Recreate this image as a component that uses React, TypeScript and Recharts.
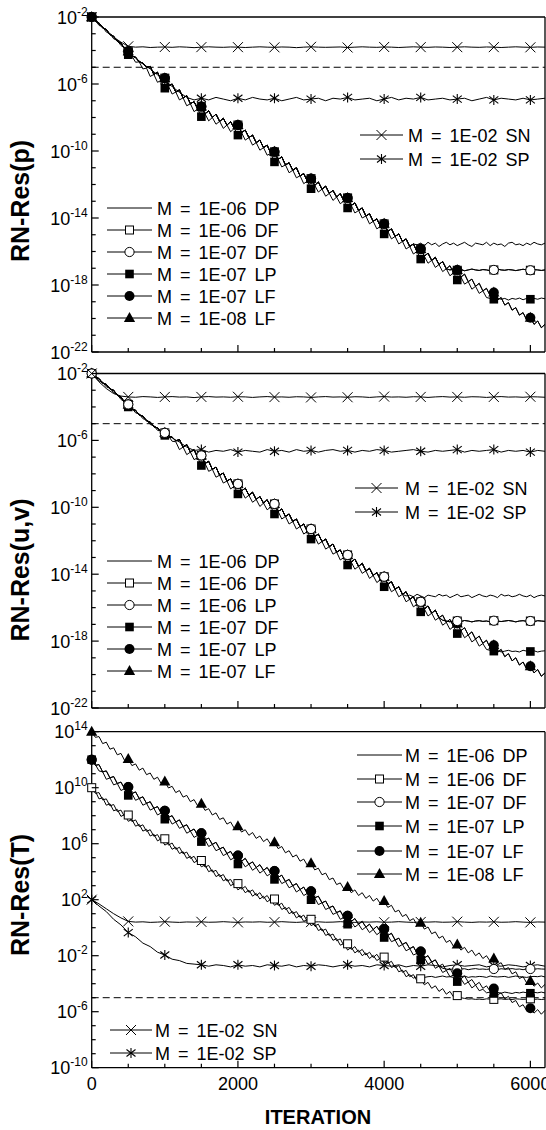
import React from "react";
import { LineChart, Line, XAxis, YAxis, ReferenceLine, Legend } from "recharts";

const FONT = '"Liberation Sans", Arial, Helvetica, sans-serif';
const X_MAX = 6200;
const xTicks = [0, 500, 1000, 1500, 2000, 2500, 3000, 3500, 4000, 4500, 5000, 5500, 6000];
const xLabelTicks = [0, 2000, 4000, 6000];

// All values are log10(residual). Wiggly curves: one value every 50 iterations.
// Flat SN / SP curves: one value every 100 iterations.

// ---- RN-Res(p) ----
const pSN = [
  -2.0, -2.4, -2.8, -3.2, -3.5, -3.75, -3.8, -3.78, -3.82, -3.8,
  -3.79, -3.81, -3.78, -3.8, -3.83, -3.8, -3.78, -3.8, -3.81, -3.79,
  -3.8, -3.82, -3.8, -3.78, -3.8, -3.81, -3.79, -3.8, -3.83, -3.8,
  -3.78, -3.8, -3.81, -3.8, -3.79, -3.82, -3.8, -3.78, -3.8, -3.81,
  -3.79, -3.8, -3.82, -3.8, -3.78, -3.8, -3.81, -3.79, -3.8, -3.82,
  -3.8, -3.78, -3.8, -3.81, -3.79, -3.8, -3.82, -3.8, -3.78, -3.8,
  -3.81, -3.79, -3.8,
];
const pSP = [
  -2.0, -2.4, -2.8, -3.2, -3.6, -4.1, -4.45, -4.8, -5.1, -5.45,
  -5.8, -6.15, -6.5, -6.8, -6.95, -6.85, -6.95, -6.8, -6.9, -7.0,
  -6.85, -6.95, -6.8, -6.9, -6.95, -6.85, -7.0, -6.9, -6.8, -6.95,
  -6.9, -6.85, -7.0, -6.85, -6.9, -6.8, -6.95, -6.9, -6.85, -7.0,
  -6.9, -6.8, -6.95, -6.85, -6.9, -6.8, -6.95, -6.9, -6.85, -6.95,
  -6.9, -6.85, -7.0, -6.9, -6.8, -6.95, -6.85, -6.9, -6.95, -6.85,
  -6.95, -6.9, -6.85,
];
// 1E-07 LF / 1E-08 LF curve (the DP and DF curves ride on it until they level off)
const pLF = [
  -2.0, -2.25, -2.35, -2.65, -2.75, -3.05, -3.15, -3.45, -3.55, -3.9,
  -4.05, -4.33, -4.4, -4.68, -4.75, -5.0, -4.95, -5.43, -5.3, -5.78,
  -5.65, -6.13, -6.0, -6.48, -6.35, -6.83, -6.7, -7.18, -7.05, -7.5,
  -7.35, -7.78, -7.6, -8.0, -7.8, -8.23, -8.05, -8.45, -8.25, -8.65,
  -8.45, -8.9, -8.75, -9.2, -9.05, -9.5, -9.35, -9.8, -9.65, -10.15,
  -10.05, -10.5, -10.35, -10.83, -10.7, -11.15, -11.0, -11.48, -11.35, -11.8,
  -11.65, -12.05, -11.85, -12.28, -12.1, -12.53, -12.35, -12.75, -12.55, -12.98,
  -12.8, -13.25, -13.1, -13.55, -13.4, -13.88, -13.75, -14.2, -14.05, -14.5,
  -14.35, -14.8, -14.65, -15.1, -14.95, -15.4, -15.25, -15.7, -15.55, -16.0,
  -15.85, -16.28, -16.1, -16.53, -16.35, -16.78, -16.6, -17.03, -16.85, -17.28,
  -17.1, -17.53, -17.35, -17.8, -17.65, -18.08, -17.9, -18.35, -18.2, -18.63,
  -18.45, -18.9, -18.75, -19.2, -19.05, -19.5, -19.35, -19.8, -19.65, -20.1,
  -19.95, -20.35, -20.15, -20.55, -20.35,
];
const pLP7 = [
  -2.0, -2.2, -2.5, -2.6, -2.9, -3.0, -3.3, -3.4, -3.7, -3.85,
  -4.25, -4.33, -4.7, -4.68, -5.1, -5.05, -5.55, -5.43, -5.9, -5.78,
  -6.25, -6.13, -6.6, -6.48, -6.95, -6.83, -7.3, -7.18, -7.65, -7.5,
  -7.95, -7.78, -8.2, -8.0, -8.4, -8.23, -8.65, -8.45, -8.85, -8.65,
  -9.05, -8.9, -9.35, -9.2, -9.65, -9.5, -9.95, -9.8, -10.25, -10.15,
  -10.65, -10.5, -10.95, -10.83, -11.3, -11.15, -11.6, -11.48, -11.95, -11.8,
  -12.25, -12.05, -12.45, -12.28, -12.7, -12.53, -12.95, -12.75, -13.15, -12.98,
  -13.4, -13.25, -13.7, -13.55, -14.0, -13.88, -14.35, -14.2, -14.65, -14.5,
  -14.95, -14.8, -15.25, -15.1, -15.55, -15.4, -15.85, -15.7, -16.15, -16.0,
  -16.45, -16.28, -16.7, -16.53, -16.95, -16.78, -17.2, -17.03, -17.45, -17.28,
  -17.7, -17.53, -17.95, -17.8, -18.25, -18.08, -18.5, -18.35, -18.75, -18.8,
  -18.85, -18.78, -18.85, -18.8, -18.9, -18.8, -18.85, -18.78, -18.88, -18.8,
  -18.85, -18.8, -18.85, -18.78, -18.82,
];
// plateaus: DP from 4450 on, DF from 4900 on
const pDPtail = [
  -15.6, -15.5, -15.65, -15.45, -15.6, -15.5, -15.7, -15.55, -15.45, -15.6,
  -15.5, -15.65, -15.55, -15.45, -15.6, -15.7, -15.5, -15.55, -15.6, -15.45,
  -15.65, -15.5, -15.6, -15.55, -15.7, -15.5, -15.45, -15.6, -15.55, -15.65,
  -15.5, -15.6, -15.45, -15.55, -15.6, -15.5,
];
const pDFtail = [
  -17.1, -17.05, -17.12, -17.08, -17.15, -17.1, -17.05, -17.1, -17.13, -17.08,
  -17.1, -17.15, -17.1, -17.05, -17.1, -17.12, -17.08, -17.1, -17.14, -17.1,
  -17.06, -17.1, -17.12, -17.08, -17.1, -17.13, -17.1,
];
const pDP = [...pLF.slice(0, 89), ...pDPtail];
const pDF = [...pLF.slice(0, 98), ...pDFtail];

// ---- RN-Res(u,v) ----
const uSN = [
  -2.0, -2.5, -2.9, -3.2, -3.35, -3.4, -3.42, -3.38, -3.4, -3.43,
  -3.4, -3.38, -3.41, -3.4, -3.44, -3.4, -3.38, -3.41, -3.4, -3.42,
  -3.39, -3.4, -3.43, -3.4, -3.38, -3.41, -3.4, -3.42, -3.39, -3.4,
  -3.43, -3.4, -3.38, -3.41, -3.4, -3.42, -3.39, -3.4, -3.43, -3.4,
  -3.38, -3.41, -3.4, -3.42, -3.39, -3.4, -3.43, -3.4, -3.38, -3.41,
  -3.4, -3.42, -3.39, -3.4, -3.43, -3.4, -3.38, -3.41, -3.4, -3.42,
  -3.39, -3.4, -3.42,
];
const uSP = [
  -2.0, -2.35, -2.7, -3.05, -3.45, -3.9, -4.25, -4.6, -4.95, -5.3,
  -5.6, -5.85, -6.1, -6.4, -6.6, -6.55, -6.7, -6.6, -6.65, -6.55,
  -6.7, -6.6, -6.65, -6.7, -6.55, -6.65, -6.6, -6.7, -6.55, -6.65,
  -6.6, -6.7, -6.6, -6.55, -6.65, -6.6, -6.7, -6.6, -6.65, -6.55,
  -6.6, -6.7, -6.65, -6.6, -6.55, -6.65, -6.7, -6.6, -6.65, -6.6,
  -6.55, -6.7, -6.6, -6.65, -6.6, -6.55, -6.7, -6.6, -6.65, -6.6,
  -6.7, -6.6, -6.65,
];
// 1E-07 LP / 1E-07 LF curve
const uLP = [
  -2.0, -2.23, -2.3, -2.58, -2.65, -2.93, -3.0, -3.3, -3.4, -3.73,
  -3.85, -4.13, -4.2, -4.48, -4.55, -4.83, -4.9, -5.18, -5.25, -5.5,
  -5.55, -5.78, -5.8, -6.03, -5.95, -6.4, -6.25, -6.7, -6.55, -7.03,
  -6.9, -7.38, -7.25, -7.73, -7.6, -8.08, -7.95, -8.43, -8.3, -8.75,
  -8.6, -9.03, -8.85, -9.28, -9.1, -9.53, -9.35, -9.75, -9.55, -9.98,
  -9.8, -10.25, -10.1, -10.55, -10.4, -10.85, -10.7, -11.15, -11.0, -11.45,
  -11.3, -11.75, -11.6, -12.05, -11.9, -12.35, -12.2, -12.68, -12.55, -13.0,
  -12.85, -13.28, -13.1, -13.53, -13.35, -13.8, -13.65, -14.08, -13.9, -14.33,
  -14.15, -14.6, -14.45, -14.9, -14.75, -15.2, -15.05, -15.5, -15.35, -15.8,
  -15.65, -16.08, -15.9, -16.33, -16.15, -16.6, -16.45, -16.88, -16.7, -17.13,
  -16.95, -17.38, -17.2, -17.63, -17.45, -17.88, -17.7, -18.13, -17.95, -18.4,
  -18.25, -18.68, -18.5, -18.93, -18.75, -19.18, -19.0, -19.43, -19.25, -19.68,
  -19.5, -19.9, -19.7, -20.1, -19.9,
];
const uDF7 = [
  -2.0, -2.18, -2.45, -2.53, -2.8, -2.88, -3.15, -3.25, -3.55, -3.68,
  -4.0, -4.08, -4.35, -4.43, -4.7, -4.78, -5.05, -5.13, -5.4, -5.45,
  -5.7, -5.73, -6.05, -6.08, -6.55, -6.4, -6.85, -6.7, -7.15, -7.03,
  -7.5, -7.38, -7.85, -7.73, -8.2, -8.08, -8.55, -8.43, -8.9, -8.75,
  -9.2, -9.03, -9.45, -9.28, -9.7, -9.53, -9.95, -9.75, -10.15, -9.98,
  -10.4, -10.25, -10.7, -10.55, -11.0, -10.85, -11.3, -11.15, -11.6, -11.45,
  -11.9, -11.75, -12.2, -12.05, -12.5, -12.35, -12.8, -12.68, -13.15, -13.0,
  -13.45, -13.28, -13.7, -13.53, -13.95, -13.8, -14.25, -14.08, -14.5, -14.33,
  -14.75, -14.6, -15.05, -14.9, -15.35, -15.2, -15.65, -15.5, -15.95, -15.8,
  -16.25, -16.08, -16.5, -16.33, -16.75, -16.6, -17.05, -16.88, -17.3, -17.13,
  -17.55, -17.38, -17.8, -17.63, -18.05, -17.88, -18.3, -18.15, -18.5, -18.55,
  -18.6, -18.55, -18.65, -18.6, -18.55, -18.62, -18.6, -18.65, -18.55, -18.6,
  -18.62, -18.58, -18.65, -18.6, -18.58,
];
// plateaus: DP from 4300 on, 1E-06 DF / LP from 4800 on
const uDPtail = [
  -15.3, -15.25, -15.35, -15.2, -15.3, -15.4, -15.25, -15.3, -15.35, -15.2,
  -15.3, -15.25, -15.4, -15.3, -15.2, -15.35, -15.3, -15.25, -15.4, -15.3,
  -15.2, -15.3, -15.35, -15.25, -15.3, -15.4, -15.2, -15.3, -15.25, -15.35,
  -15.3, -15.2, -15.3, -15.35, -15.25, -15.4, -15.3, -15.25, -15.3,
];
const uDFtail = [
  -16.75, -16.8, -16.85, -16.78, -16.8, -16.83, -16.77, -16.8, -16.85, -16.8,
  -16.78, -16.82, -16.8, -16.85, -16.78, -16.8, -16.83, -16.8, -16.77, -16.8,
  -16.85, -16.8, -16.78, -16.82, -16.8, -16.84, -16.78, -16.8, -16.82,
];
const uDP = [...uLP.slice(0, 86), ...uDPtail];
const uDF6 = [...uLP.slice(0, 96), ...uDFtail];

// ---- RN-Res(T) ----
const tSN = [
  2.0, 1.7, 1.35, 1.0, 0.7, 0.45, 0.4, 0.42, 0.38, 0.4,
  0.43, 0.4, 0.38, 0.41, 0.4, 0.42, 0.39, 0.4, 0.43, 0.4,
  0.38, 0.41, 0.4, 0.42, 0.39, 0.4, 0.43, 0.4, 0.38, 0.41,
  0.4, 0.42, 0.39, 0.4, 0.43, 0.4, 0.38, 0.41, 0.4, 0.42,
  0.39, 0.4, 0.43, 0.4, 0.38, 0.41, 0.4, 0.42, 0.39, 0.4,
  0.43, 0.4, 0.38, 0.41, 0.4, 0.42, 0.39, 0.4, 0.43, 0.4,
  0.38, 0.41, 0.4,
];
const tSP = [
  2.0, 1.55, 1.15, 0.6, 0.2, -0.35, -0.65, -1.1, -1.35, -1.75,
  -1.95, -2.25, -2.35, -2.55, -2.6, -2.65, -2.75, -2.65, -2.7, -2.8,
  -2.65, -2.75, -2.7, -2.8, -2.65, -2.7, -2.75, -2.65, -2.8, -2.7,
  -2.75, -2.65, -2.7, -2.8, -2.7, -2.65, -2.75, -2.7, -2.8, -2.65,
  -2.7, -2.75, -2.65, -2.8, -2.7, -2.75, -2.65, -2.7, -2.8, -2.7,
  -2.65, -2.75, -2.7, -2.65, -2.8, -2.7, -2.75, -2.65, -2.7, -2.8,
  -2.7, -2.65, -2.75,
];
const tDP = [
  10.0, 9.75, 9.2, 9.28, 8.75, 8.85, 8.35, 8.45, 7.95, 8.08,
  7.6, 7.73, 7.25, 7.38, 6.9, 7.03, 6.55, 6.68, 6.2, 6.35,
  5.9, 6.05, 5.6, 5.75, 5.3, 5.43, 4.95, 5.1, 4.65, 4.8,
  4.35, 4.48, 4.0, 4.13, 3.65, 3.8, 3.35, 3.48, 3.0, 3.15,
  2.7, 2.9, 2.5, 2.68, 2.25, 2.45, 2.05, 2.25, 1.85, 2.03,
  1.6, 1.75, 1.3, 1.45, 1.0, 1.15, 0.7, 0.88, 0.45, 0.6,
  0.15, 0.28, -0.2, -0.08, -0.55, -0.43, -0.9, -0.78, -1.25, -1.13,
  -1.6, -1.4, -1.8, -1.6, -2.0, -1.8, -2.2, -1.98, -2.35, -2.15,
  -2.55, -2.4, -2.85, -2.7, -3.15, -3.03, -3.5, -3.35, -3.6, -3.5,
  -3.45, -3.55, -3.5, -3.48, -3.55, -3.5, -3.45, -3.52, -3.5, -3.55,
  -3.48, -3.5, -3.45, -3.55, -3.5, -3.52, -3.48, -3.5, -3.55, -3.45,
  -3.5, -3.52, -3.5, -3.48, -3.55, -3.5, -3.45, -3.5, -3.52, -3.55,
  -3.5, -3.48, -3.5, -3.45, -3.52,
];
const tDF6 = [
  10.0, 9.6, 9.65, 9.13, 9.2, 8.7, 8.8, 8.3, 8.4, 7.93,
  8.05, 7.58, 7.7, 7.23, 7.35, 6.88, 7.0, 6.53, 6.65, 6.2,
  6.35, 5.9, 6.05, 5.6, 5.75, 5.28, 5.4, 4.95, 5.1, 4.65,
  4.8, 4.33, 4.45, 3.98, 4.1, 3.65, 3.8, 3.33, 3.45, 3.0,
  3.15, 2.75, 2.95, 2.53, 2.7, 2.3, 2.5, 2.1, 2.3, 1.88,
  2.05, 1.6, 1.75, 1.3, 1.45, 1.0, 1.15, 0.73, 0.9, 0.45,
  0.6, 0.13, 0.25, -0.23, -0.1, -0.58, -0.45, -0.93, -0.8, -1.28,
  -1.15, -1.55, -1.35, -1.75, -1.55, -1.95, -1.75, -2.13, -1.9, -2.3,
  -2.1, -2.55, -2.4, -2.85, -2.7, -3.18, -3.05, -3.5, -3.35, -3.8,
  -3.65, -4.08, -3.9, -4.33, -4.15, -4.55, -4.35, -4.75, -4.55, -4.95,
  -4.85, -5.0, -5.05, -5.1, -5.08, -5.12, -5.1, -5.13, -5.08, -5.1,
  -5.12, -5.1, -5.08, -5.12, -5.1, -5.13, -5.08, -5.1, -5.12, -5.1,
  -5.08, -5.12, -5.1, -5.13, -5.1,
];
const tLF7 = [
  12.0, 11.6, 11.65, 11.13, 11.2, 10.7, 10.8, 10.3, 10.4, 9.93,
  10.05, 9.58, 9.7, 9.23, 9.35, 8.88, 9.0, 8.53, 8.65, 8.2,
  8.35, 7.88, 8.0, 7.55, 7.7, 7.23, 7.35, 6.9, 7.05, 6.6,
  6.75, 6.28, 6.4, 5.95, 6.1, 5.63, 5.75, 5.3, 5.45, 5.0,
  5.15, 4.75, 4.95, 4.53, 4.7, 4.3, 4.5, 4.1, 4.3, 3.88,
  4.05, 3.6, 3.75, 3.3, 3.45, 3.0, 3.15, 2.73, 2.9, 2.45,
  2.6, 2.13, 2.25, 1.78, 1.9, 1.43, 1.55, 1.08, 1.2, 0.73,
  0.85, 0.45, 0.65, 0.25, 0.45, 0.05, 0.25, -0.13, 0.1, -0.3,
  -0.1, -0.55, -0.4, -0.88, -0.75, -1.2, -1.05, -1.5, -1.35, -1.83,
  -1.7, -2.15, -2.0, -2.45, -2.3, -2.75, -2.6, -3.05, -2.9, -3.38,
  -3.25, -3.65, -3.45, -3.88, -3.7, -4.1, -3.9, -4.33, -4.15, -4.55,
  -4.35, -4.8, -4.65, -5.08, -4.9, -5.35, -5.2, -5.65, -5.5, -5.93,
  -5.75, -6.1, -5.85, -6.18, -5.9,
];
const tLP7 = [
  12.0, 11.65, 11.2, 11.13, 10.6, 10.7, 10.2, 10.3, 9.8, 9.93,
  9.45, 9.58, 9.1, 9.23, 8.75, 8.88, 8.4, 8.53, 8.05, 8.2,
  7.75, 7.88, 7.4, 7.55, 7.1, 7.23, 6.75, 6.9, 6.45, 6.6,
  6.15, 6.28, 5.8, 5.95, 5.5, 5.63, 5.15, 5.3, 4.85, 5.0,
  4.55, 4.75, 4.35, 4.53, 4.1, 4.3, 3.9, 4.1, 3.7, 3.88,
  3.45, 3.6, 3.15, 3.3, 2.85, 3.0, 2.55, 2.73, 2.3, 2.45,
  2.0, 2.13, 1.65, 1.78, 1.3, 1.43, 0.95, 1.08, 0.6, 0.73,
  0.25, 0.45, 0.05, 0.25, -0.15, 0.05, -0.35, -0.13, -0.5, -0.3,
  -0.7, -0.55, -1.0, -0.88, -1.35, -1.2, -1.65, -1.5, -1.95, -1.83,
  -2.3, -2.15, -2.6, -2.45, -2.9, -2.75, -3.2, -3.05, -3.5, -3.38,
  -3.85, -3.65, -4.05, -3.88, -4.3, -4.1, -4.5, -4.4, -4.65, -4.6,
  -4.7, -4.62, -4.68, -4.6, -4.65, -4.7, -4.62, -4.66, -4.6, -4.65,
  -4.68, -4.62, -4.65, -4.6, -4.66,
];
const tLF8 = [
  14.0, 13.6, 13.65, 13.15, 13.25, 12.75, 12.85, 12.35, 12.45, 11.95,
  12.05, 11.58, 11.7, 11.25, 11.4, 10.93, 11.05, 10.6, 10.75, 10.3,
  10.45, 9.98, 10.1, 9.65, 9.8, 9.33, 9.45, 9.0, 9.15, 8.7,
  8.85, 8.38, 8.5, 8.05, 8.2, 7.73, 7.85, 7.4, 7.55, 7.1,
  7.25, 6.83, 7.0, 6.6, 6.8, 6.38, 6.55, 6.15, 6.35, 5.93,
  6.1, 5.65, 5.8, 5.35, 5.5, 5.05, 5.2, 4.75, 4.9, 4.45,
  4.6, 4.13, 4.25, 3.78, 3.9, 3.43, 3.55, 3.08, 3.2, 2.75,
  2.9, 2.5, 2.7, 2.3, 2.5, 2.1, 2.3, 1.9, 2.1, 1.7,
  1.9, 1.45, 1.6, 1.13, 1.25, 0.8, 0.95, 0.5, 0.65, 0.2,
  0.35, -0.1, 0.05, -0.43, -0.3, -0.75, -0.6, -1.05, -0.9, -1.35,
  -1.2, -1.6, -1.4, -1.8, -1.6, -2.0, -1.8, -2.2, -2.0, -2.4,
  -2.2, -2.65, -2.5, -2.98, -2.85, -3.3, -3.15, -3.63, -3.5, -3.95,
  -3.8, -4.18, -3.95, -4.3, -4.05,
];
// 1E-07 DF levels off from 4800 on
const tDF7tail = [
  -2.9, -2.95, -3.0, -2.92, -2.97, -2.95, -2.93, -3.0, -2.95, -2.92,
  -2.97, -2.95, -2.98, -2.94, -2.95, -3.0, -2.93, -2.96, -2.95, -2.92,
  -2.97, -2.95, -3.0, -2.94, -2.95, -2.97, -2.93, -2.95, -2.96,
];
const tDF7 = [...tLF7.slice(0, 96), ...tDF7tail];

// y ticks (exponents) and the ones that carry a label
const uvpTicks = [-22, -21, -20, -19, -18, -17, -16, -15, -14, -13, -12, -11, -10, -9, -8, -7, -6, -5, -4, -3, -2];
const uvpLabels = [-22, -18, -14, -10, -6, -2];
const tTicks = [-10, -9, -8, -7, -6, -5, -4, -3, -2, -1, 0, 1, 2, 3, 4, 5, 6, 7, 8, 9, 10, 11, 12, 13, 14];
const tLabels = [-10, -6, -2, 2, 6, 10, 14];
const THRESHOLD = 1e-5;

type Shape = "none" | "sqOpen" | "circOpen" | "sqFill" | "circFill" | "tri" | "cross" | "star";
type Series = { name: string; values: number[]; shape: Shape; step: number };

const toPoints = (values: number[], step: number) => values.map((v, i) => ({ x: i * step, y: Math.pow(10, v) }));

function Marker({ shape, cx, cy }: { shape: Shape; cx: number; cy: number }) {
  switch (shape) {
    case "circFill":
      return <circle cx={cx} cy={cy} r={5} fill="#000" />;
    case "circOpen":
      return <circle cx={cx} cy={cy} r={4.6} fill="#fff" stroke="#000" strokeWidth={1} />;
    case "sqFill":
      return <rect x={cx - 4.3} y={cy - 4.3} width={8.6} height={8.6} fill="#000" />;
    case "sqOpen":
      return <rect x={cx - 4} y={cy - 4} width={8} height={8} fill="#fff" stroke="#000" strokeWidth={1} />;
    case "tri":
      return <polygon points={`${cx},${cy - 6} ${cx - 5.6},${cy + 4} ${cx + 5.6},${cy + 4}`} fill="#000" />;
    case "cross":
      return (
        <g stroke="#000" strokeWidth={1}>
          <line x1={cx - 5} y1={cy - 5} x2={cx + 5} y2={cy + 5} />
          <line x1={cx - 5} y1={cy + 5} x2={cx + 5} y2={cy - 5} />
        </g>
      );
    case "star":
      return (
        <g stroke="#000" strokeWidth={1.1}>
          <line x1={cx - 4.5} y1={cy - 3.5} x2={cx + 4.5} y2={cy + 3.5} />
          <line x1={cx - 4.5} y1={cy + 3.5} x2={cx + 4.5} y2={cy - 3.5} />
          <line x1={cx} y1={cy - 5} x2={cx} y2={cy + 5} />
        </g>
      );
    default:
      return null;
  }
}

// a marker every 500 iterations
const dotFor = (shape: Shape, step: number) => (props: any) => {
  const { cx, cy, index } = props;
  const every = 500 / step;
  if (shape === "none" || index % every !== 0 || cx == null || cy == null) return <g key={`d${index}`} />;
  return (
    <g key={`d${index}`}>
      <Marker shape={shape} cx={cx} cy={cy} />
    </g>
  );
};

function XTick(props: any) {
  const { x, y, payload, side, showLabel } = props;
  const v = payload.value as number;
  const major = v % 2000 === 0;
  const len = major ? 7 : 4;
  const dir = side === "top" ? 1 : -1;
  return (
    <g>
      <line x1={x} x2={x} y1={y} y2={y + dir * len} stroke="#000" strokeWidth={1.2} />
      {showLabel && xLabelTicks.includes(v) && (
        <text x={x} y={y + 22} textAnchor="middle" fontSize={18} fontFamily={FONT} fill="#000">
          {v}
        </text>
      )}
    </g>
  );
}

function YTick(props: any) {
  const { x, y, payload, side, majors } = props;
  const e = Math.round(Math.log10(payload.value));
  const major = majors.includes(e);
  const len = major ? 7 : 4;
  const dir = side === "left" ? 1 : -1;
  return (
    <g>
      <line x1={x} x2={x + dir * len} y1={y} y2={y} stroke="#000" strokeWidth={1.2} />
      {side === "left" && major && (
        <text x={x - 4} y={y + 6.5} textAnchor="end" fontSize={18} fontFamily={FONT} fill="#000">
          10
          <tspan dy={-8} fontSize={12}>
            {String(e)}
          </tspan>
        </text>
      )}
    </g>
  );
}

type LegendBlock = { x1: number; x2: number; tx: number; rows: number[]; items: Series[] };

function LegendSvg({ blocks, top, height }: { blocks: LegendBlock[]; top: number; height: number }) {
  return (
    <svg width={546} height={height} style={{ display: "block", overflow: "visible" }}>
      {blocks.map((b, bi) =>
        b.items.map((s, i) => {
          const y = b.rows[i] - top;
          return (
            <g key={`${bi}-${i}`}>
              <line x1={b.x1} x2={b.x2} y1={y} y2={y} stroke="#000" strokeWidth={1} />
              <Marker shape={s.shape} cx={(b.x1 + b.x2) / 2} cy={y} />
              <text x={b.tx} y={y + 6.5} fontSize={18} fontFamily={FONT} fill="#000" style={{ wordSpacing: 3 }}>
                {s.name}
              </text>
            </g>
          );
        })
      )}
    </svg>
  );
}

type PanelProps = {
  top: number;
  height: number;
  marginTop: number;
  marginBottom: number;
  ticks: number[];
  labels: number[];
  title: string;
  titleY: number;
  series: Series[];
  legends: LegendBlock[];
  showX?: boolean;
};

function Panel({ top, height, marginTop, marginBottom, ticks, labels, title, titleY, series, legends, showX }: PanelProps) {
  const domain = [Math.pow(10, ticks[0]), Math.pow(10, ticks[ticks.length - 1])];
  const yTickValues = ticks.map((e) => Math.pow(10, e));
  return (
    <div style={{ position: "absolute", left: 0, top }}>
      {/* axes get 1px of room: recharts skips drawing an axis whose box is empty */}
      <LineChart width={546} height={height} margin={{ top: marginTop - 1, right: 0, bottom: marginBottom - 1, left: 0 }}>
        <XAxis
          xAxisId="b"
          type="number"
          dataKey="x"
          domain={[0, X_MAX]}
          ticks={xTicks}
          interval={0}
          height={1}
          tickSize={0}
          tickMargin={0}
          tickLine={false}
          axisLine={{ stroke: "#000", strokeWidth: 1.3 }}
          tick={(p: any) => <XTick {...p} side="bottom" showLabel={showX} />}
          label={
            showX
              ? () => (
                  <text x={318} y={1124 - top} textAnchor="middle" fontSize={20} fontWeight="bold" fontFamily={FONT} fill="#000">
                    ITERATION
                  </text>
                )
              : undefined
          }
        />
        <XAxis
          xAxisId="t"
          orientation="top"
          type="number"
          dataKey="x"
          domain={[0, X_MAX]}
          ticks={xTicks}
          interval={0}
          height={1}
          tickSize={0}
          tickMargin={0}
          tickLine={false}
          axisLine={{ stroke: "#000", strokeWidth: 1.3 }}
          tick={(p: any) => <XTick {...p} side="top" />}
        />
        <YAxis
          yAxisId="l"
          scale="log"
          domain={domain}
          ticks={yTickValues}
          interval={0}
          width={91.7}
          tickSize={0}
          tickMargin={0}
          tickLine={false}
          axisLine={{ stroke: "#000", strokeWidth: 1.3 }}
          tick={(p: any) => <YTick {...p} side="left" majors={labels} />}
          label={() => (
            <text
              transform={`translate(29, ${titleY - top}) rotate(-90)`}
              textAnchor="middle"
              fontSize={25}
              fontWeight="bold"
              fontFamily={FONT}
              fill="#000"
            >
              {title}
            </text>
          )}
        />
        <YAxis
          yAxisId="r"
          orientation="right"
          scale="log"
          domain={domain}
          ticks={yTickValues}
          interval={0}
          width={1}
          tickSize={0}
          tickMargin={0}
          tickLine={false}
          axisLine={{ stroke: "#000", strokeWidth: 1.3 }}
          tick={(p: any) => <YTick {...p} side="right" majors={labels} />}
        />
        <ReferenceLine xAxisId="b" yAxisId="l" y={THRESHOLD} stroke="#000" strokeWidth={1} strokeDasharray="7 4" />
        {series.map((s) => (
          <Line
            key={s.name}
            xAxisId="b"
            yAxisId="l"
            data={toPoints(s.values, s.step)}
            dataKey="y"
            type="linear"
            stroke="#000"
            strokeWidth={1}
            dot={dotFor(s.shape, s.step)}
            activeDot={false}
            legendType="none"
            isAnimationActive={false}
          />
        ))}
        <Legend
          layout="horizontal"
          verticalAlign="middle"
          align="center"
          wrapperStyle={{ left: 0, top: 0, width: 546, height, pointerEvents: "none" }}
          content={() => <LegendSvg blocks={legends} top={top} height={height} />}
        />
      </LineChart>
    </div>
  );
}

const S = (name: string, values: number[], shape: Shape, step = 50): Series => ({ name, values, shape, step });

const P = {
  SN: S("M = 1E-02 SN", pSN, "cross", 100),
  SP: S("M = 1E-02 SP", pSP, "star", 100),
  DP: S("M = 1E-06 DP", pDP, "none"),
  DF6: S("M = 1E-06 DF", pDF, "sqOpen"),
  DF7: S("M = 1E-07 DF", pDF, "circOpen"),
  LP7: S("M = 1E-07 LP", pLP7, "sqFill"),
  LF7: S("M = 1E-07 LF", pLF, "circFill"),
  LF8: S("M = 1E-08 LF", pLF, "tri"),
};
const U = {
  SN: S("M = 1E-02 SN", uSN, "cross", 100),
  SP: S("M = 1E-02 SP", uSP, "star", 100),
  DP: S("M = 1E-06 DP", uDP, "none"),
  DF6: S("M = 1E-06 DF", uDF6, "sqOpen"),
  LP6: S("M = 1E-06 LP", uDF6, "circOpen"),
  DF7: S("M = 1E-07 DF", uDF7, "sqFill"),
  LP7: S("M = 1E-07 LP", uLP, "circFill"),
  LF7: S("M = 1E-07 LF", uLP, "tri"),
};
const T = {
  SN: S("M = 1E-02 SN", tSN, "cross", 100),
  SP: S("M = 1E-02 SP", tSP, "star", 100),
  DP: S("M = 1E-06 DP", tDP, "none"),
  DF6: S("M = 1E-06 DF", tDF6, "sqOpen"),
  DF7: S("M = 1E-07 DF", tDF7, "circOpen"),
  LP7: S("M = 1E-07 LP", tLP7, "sqFill"),
  LF7: S("M = 1E-07 LF", tLF7, "circFill"),
  LF8: S("M = 1E-08 LF", tLF8, "tri"),
};

export default function App() {
  return (
    <div style={{ position: "absolute", left: 0, top: 0, width: 546, height: 1130, background: "#fff", overflow: "hidden" }}>
      <Panel
        top={0}
        height={362}
        marginTop={17}
        marginBottom={10}
        ticks={uvpTicks}
        labels={uvpLabels}
        title="RN-Res(p)"
        titleY={201}
        series={[P.SN, P.SP, P.DP, P.DF6, P.DF7, P.LP7, P.LF8, P.LF7]}
        legends={[
          { x1: 107, x2: 152, tx: 157, rows: [208, 230, 252, 274, 296, 318], items: [P.DP, P.DF6, P.DF7, P.LP7, P.LF7, P.LF8] },
          { x1: 360, x2: 403, tx: 408, rows: [135, 159], items: [P.SN, P.SP] },
        ]}
      />
      <Panel
        top={355}
        height={363}
        marginTop={18.5}
        marginBottom={10}
        ticks={uvpTicks}
        labels={uvpLabels}
        title="RN-Res(u,v)"
        titleY={570}
        series={[U.DP, U.DF7, U.LF7, U.LP7, U.SP, U.DF6, U.LP6, U.SN]}
        legends={[
          { x1: 107, x2: 152, tx: 157, rows: [561, 583, 605, 627, 649, 671], items: [U.DP, U.DF6, U.LP6, U.DF7, U.LP7, U.LF7] },
          { x1: 355, x2: 398, tx: 405, rows: [488, 512], items: [U.SN, U.SP] },
        ]}
      />
      <Panel
        top={712}
        height={418}
        marginTop={19.7}
        marginBottom={62.3}
        ticks={tTicks}
        labels={tLabels}
        title="RN-Res(T)"
        titleY={895}
        series={[T.SN, T.SP, T.DP, T.DF6, T.DF7, T.LP7, T.LF7, T.LF8]}
        legends={[
          { x1: 357, x2: 402, tx: 405, rows: [755, 779, 802, 826, 851, 874], items: [T.DP, T.DF6, T.DF7, T.LP7, T.LF7, T.LF8] },
          { x1: 110, x2: 152, tx: 155, rows: [1030, 1053], items: [T.SN, T.SP] },
        ]}
        showX
      />
    </div>
  );
}
